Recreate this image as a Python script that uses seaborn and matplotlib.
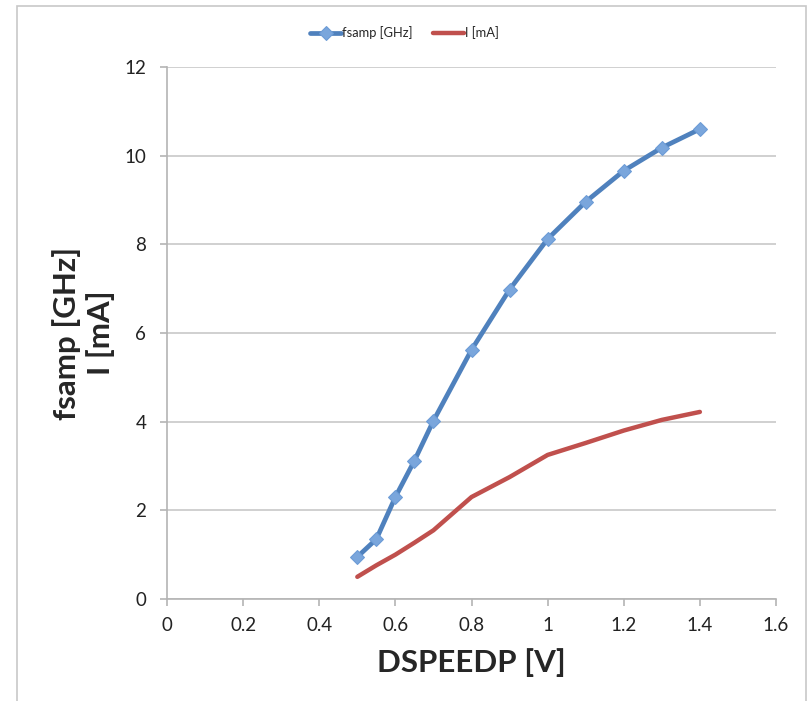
import matplotlib
matplotlib.use("Agg")
import matplotlib.pyplot as plt
import seaborn as sns
import pandas as pd
from matplotlib.patches import Rectangle

# values
voltage = [0.5, 0.55, 0.6, 0.65, 0.7, 0.8, 0.9, 1.0, 1.1, 1.2, 1.3, 1.4]
fsamp_ghz = [0.95, 1.35, 2.3, 3.12, 4.02, 5.62, 6.98, 8.12, 8.96, 9.66, 10.18, 10.6]
current_ma = [0.5, 0.76, 1.0, 1.27, 1.55, 2.3, 2.75, 3.25, 3.52, 3.8, 4.04, 4.22]

x_ticks = [0, 0.2, 0.4, 0.6, 0.8, 1.0, 1.2, 1.4, 1.6]
x_tick_labels = ["0", "0.2", "0.4", "0.6", "0.8", "1", "1.2", "1.4", "1.6"]
y_ticks = [0, 2, 4, 6, 8, 10, 12]

df = pd.DataFrame({"V": voltage, "fsamp": fsamp_ghz, "I": current_ma})

sns.set_style("white")
plt.rcParams["font.family"] = ["Lato", "DejaVu Sans"]

fig = plt.figure(figsize=(8.09, 7.01), dpi=100)
ax = fig.add_axes([167 / 809, 0.1455, 609 / 809, 0.7589])

# outer chart frame
fig.patches.append(Rectangle((17 / 809, -0.01), (806 - 17) / 809, 1 - 6 / 701 + 0.01,
                             transform=fig.transFigure, fill=False,
                             edgecolor="#c8c8c8", linewidth=1.2))

sns.lineplot(data=df, x="V", y="fsamp", ax=ax, color="#4f81bd", linewidth=3.4,
             marker="D", markersize=7.5, markerfacecolor="#7aa6dc",
             markeredgecolor="#6b9bd6", label="fsamp [GHz]")
sns.lineplot(data=df, x="V", y="I", ax=ax, color="#c0504d", linewidth=3.2,
             label="I [mA]")

ax.set_xlim(0, 1.6)
ax.set_ylim(0, 12)
ax.set_xticks(x_ticks)
ax.set_xticklabels(x_tick_labels)
ax.set_yticks(y_ticks)
ax.grid(axis="y", color="#c8c8c8", linewidth=1.2)
ax.set_axisbelow(True)

for side in ["top", "right"]:
    ax.spines[side].set_visible(False)
for side in ["left", "bottom"]:
    ax.spines[side].set_color("#b4b4b4")
    ax.spines[side].set_linewidth(1.2)

ax.tick_params(axis="both", direction="out", length=5, width=1.2, color="#b4b4b4",
               labelsize=13.5, labelcolor="#222222", left=True, bottom=True)
ax.tick_params(axis="x", pad=8)
ax.tick_params(axis="y", pad=10)

ax.set_xlabel("DSPEEDP [V]", fontsize=22.5, fontweight="bold", labelpad=10)
ax.set_ylabel("fsamp [GHz]\nI [mA]", fontsize=22.5, fontweight="bold", labelpad=7,
              linespacing=1.2)

ax.legend(loc="center", bbox_to_anchor=(0.5, 0.953), bbox_transform=fig.transFigure,
          ncol=2, frameon=False, fontsize=9.3, handlelength=2.4, handletextpad=0.05,
          columnspacing=1.6)

fig.savefig("out.png", dpi=100)
